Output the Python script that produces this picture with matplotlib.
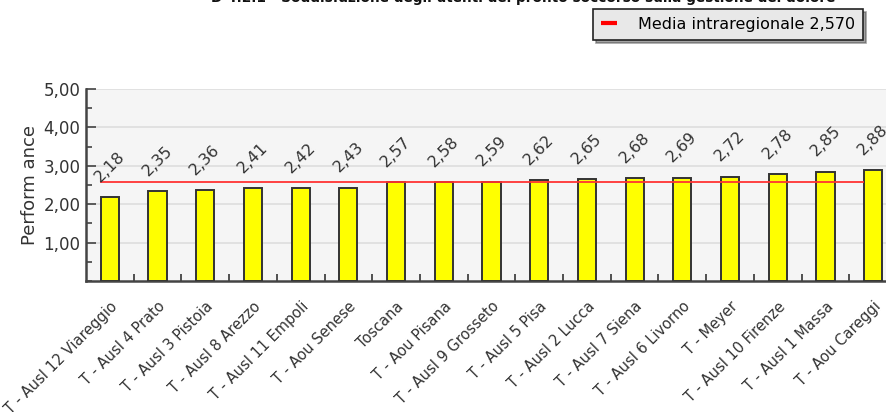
import numpy as np
import matplotlib

matplotlib.use("Agg")
import matplotlib.pyplot as plt
from matplotlib.ticker import MultipleLocator, FixedLocator

TITLE = "D 4.2.1 - Soddisfazione degli utenti del pronto soccorso sulla gestione del dolore"
CATEGORIES = [
    "T - Ausl 12 Viareggio", "T - Ausl 4 Prato", "T - Ausl 3 Pistoia", "T - Ausl 8 Arezzo",
    "T - Ausl 11 Empoli", "T - Aou Senese", "Toscana", "T - Aou Pisana",
    "T - Ausl 9 Grosseto", "T - Ausl 5 Pisa", "T - Ausl 2 Lucca", "T - Ausl 7 Siena",
    "T - Ausl 6 Livorno", "T - Meyer", "T - Ausl 10 Firenze", "T - Ausl 1 Massa",
    "T - Aou Careggi",
]
VALUES = [2.18, 2.35, 2.36, 2.41, 2.42, 2.43, 2.57, 2.58, 2.59, 2.62, 2.65, 2.68,
          2.69, 2.72, 2.78, 2.85, 2.88]
MEDIA = 2.570
Y_TICKS = [1, 2, 3, 4, 5]


def fmt(v, nd=2):
    return f"{v:.{nd}f}".replace(".", ",")


fig = plt.figure(figsize=(8.87, 4.12), dpi=100)
ax = fig.add_axes([86 / 887, 1 - 281 / 412, 811 / 887, 192 / 412])
ax.set_facecolor("#f5f5f5")

x = np.arange(len(CATEGORIES))
bars = ax.bar(x, VALUES, width=0.38, color="#ffff00", edgecolor="#333333", linewidth=1.4, zorder=3)

ax.hlines(MEDIA, -0.2, len(CATEGORIES) - 1.2, color="#ff3333", linewidth=1.3, zorder=4,
          label=f"Media intraregionale {fmt(MEDIA, 3)}")

for bar, v in zip(bars, VALUES):
    ax.annotate(fmt(v), (bar.get_x() + bar.get_width() / 2, v), xytext=(0, 9),
                textcoords="offset points", rotation=45, ha="center", va="bottom",
                fontsize=11.5, color="#333333", zorder=5)

ax.set_xlim(-0.5, len(CATEGORIES) - 0.5)
ax.set_ylim(0, 5)
ax.yaxis.set_major_locator(FixedLocator(Y_TICKS))
ax.yaxis.set_minor_locator(MultipleLocator(0.5))
ax.set_yticklabels([fmt(t) for t in Y_TICKS], fontsize=12, color="#333333")
ax.tick_params(axis="y", which="major", direction="in", length=7, width=1.2, color="#444444", pad=4)
ax.tick_params(axis="y", which="minor", direction="in", length=4, width=1.2, color="#444444")
ax.grid(axis="y", which="major", color="#dddddd", linewidth=1.2, zorder=0)

ax.set_xticks(x)
ax.set_xticklabels(CATEGORIES, rotation=45, ha="right", rotation_mode="anchor",
                   fontsize=10.5, color="#333333")
ax.xaxis.set_minor_locator(FixedLocator(x[:-1] + 0.5))
ax.tick_params(axis="x", which="major", length=0, pad=13)
ax.tick_params(axis="x", which="minor", direction="in", length=5, width=1.2, color="#333333")

for s in ["top", "right"]:
    ax.spines[s].set_visible(False)
for s in ["left", "bottom"]:
    ax.spines[s].set_color("#444444")
    ax.spines[s].set_linewidth(1.8)

ax.set_ylabel("Perform ance", fontsize=13, color="#333333", labelpad=3)

fig.text(523 / 887, 1 - 2 / 412, TITLE, ha="center", va="baseline", fontsize=9.8,
         fontweight="bold", color="#111111")

leg = fig.legend(loc="upper right", bbox_to_anchor=(863 / 887, 1 - 9 / 412), fontsize=11.5,
                 frameon=True, fancybox=False, shadow=True, handlelength=1.0,
                 borderpad=0.5, handletextpad=1.3, borderaxespad=0)
leg.get_frame().set_facecolor("#e8e8e8")
leg.get_frame().set_edgecolor("#222222")
leg.get_frame().set_linewidth(1.2)
for line in leg.get_lines():
    line.set_linewidth(3)
    line.set_color("#ff0000")

fig.savefig("out.png", dpi=100)
